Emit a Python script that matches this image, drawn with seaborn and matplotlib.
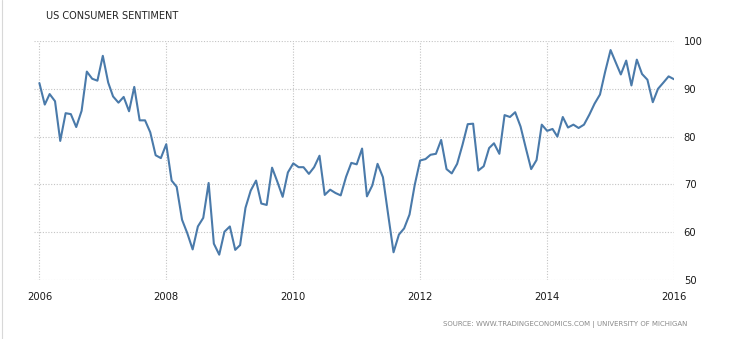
import matplotlib
matplotlib.use("Agg")
import matplotlib.pyplot as plt
import matplotlib.dates as mdates
from matplotlib.lines import Line2D
import numpy as np
import pandas as pd
import seaborn as sns

# University of Michigan consumer sentiment index, monthly, Jan 2006 - Jan 2016
sentiment_2006 = [91.2, 86.7, 88.9, 87.4, 79.1, 84.9, 84.7, 82.0, 85.4, 93.6, 92.1, 91.7]
sentiment_2007 = [96.9, 91.3, 88.4, 87.1, 88.3, 85.3, 90.4, 83.4, 83.4, 80.9, 76.1, 75.5]
sentiment_2008 = [78.4, 70.8, 69.5, 62.6, 59.8, 56.4, 61.2, 63.0, 70.3, 57.6, 55.3, 60.1]
sentiment_2009 = [61.2, 56.3, 57.3, 65.1, 68.7, 70.8, 66.0, 65.7, 73.5, 70.6, 67.4, 72.5]
sentiment_2010 = [74.4, 73.6, 73.6, 72.2, 73.6, 76.0, 67.8, 68.9, 68.2, 67.7, 71.6, 74.5]
sentiment_2011 = [74.2, 77.5, 67.5, 69.8, 74.3, 71.5, 63.7, 55.8, 59.5, 60.8, 63.7, 69.9]
sentiment_2012 = [75.0, 75.3, 76.2, 76.4, 79.3, 73.2, 72.3, 74.3, 78.3, 82.6, 82.7, 72.9]
sentiment_2013 = [73.8, 77.6, 78.6, 76.4, 84.5, 84.1, 85.1, 82.1, 77.5, 73.2, 75.1, 82.5]
sentiment_2014 = [81.2, 81.6, 80.0, 84.1, 81.9, 82.5, 81.8, 82.5, 84.6, 86.9, 88.8, 93.6]
sentiment_2015 = [98.1, 95.4, 93.0, 95.9, 90.7, 96.1, 93.1, 91.9, 87.2, 90.0, 91.3, 92.6]
sentiment_2016 = [92.0]

sentiment = (sentiment_2006 + sentiment_2007 + sentiment_2008 + sentiment_2009 +
             sentiment_2010 + sentiment_2011 + sentiment_2012 + sentiment_2013 +
             sentiment_2014 + sentiment_2015 + sentiment_2016)
months = pd.date_range("2006-01-01", periods=len(sentiment), freq="MS")

title_text = "US CONSUMER SENTIMENT"
source_text = "SOURCE: WWW.TRADINGECONOMICS.COM | UNIVERSITY OF MICHIGAN"
y_ticks = [50, 60, 70, 80, 90, 100]

df = pd.DataFrame({"month": months, "sentiment": sentiment})

sns.set_theme(style="white")
plt.rcParams["font.family"] = ["DejaVu Sans"]

W, H = 750, 339
fig = plt.figure(figsize=(W / 100, H / 100), dpi=100)
ax = fig.add_axes([34 / W, 1 - 280 / H, (674 - 34) / W, (280 - 41) / H])

sns.lineplot(data=df, x="month", y="sentiment", ax=ax,
             color="#4a7aaa", linewidth=1.5, zorder=3)

ax.set_xlim(pd.Timestamp("2005-12-01"), pd.Timestamp("2016-01-01"))
ax.set_ylim(50, 100)
ax.set_yticks(y_ticks)
ax.xaxis.set_major_locator(mdates.YearLocator(2))
ax.xaxis.set_major_formatter(mdates.DateFormatter("%Y"))

grid_kw = dict(color="#c4c4c4", linestyle=(0, (1, 1.5)), linewidth=0.8)
ax.grid(True, axis="both", **grid_kw)
for s in ax.spines.values():
    s.set_visible(False)

ax.yaxis.tick_right()
ax.tick_params(axis="y", length=0, pad=7, labelsize=7.2, labelcolor="#1a1a1a")
ax.tick_params(axis="x", length=3, width=0.8, color="#c4c4c4", direction="out",
               pad=6, labelsize=7.2, labelcolor="#1a1a1a")
for lab in ax.get_yticklabels():
    lab.set_horizontalalignment("left")
ax.set_xlabel("")
ax.set_ylabel("")

fig.text(46 / W, 1 - 16 / H, title_text, ha="left", va="center",
         fontsize=7.0, color="#222222")
fig.text(687 / W, 1 - 324 / H, source_text, ha="right", va="center",
         fontsize=5.0, color="#8a8a8a")

# thin frame line along the left edge
fig.add_artist(Line2D([1.5 / W, 1.5 / W], [0, 1], transform=fig.transFigure,
                      color="#d8d8d8", linewidth=0.8))

fig.savefig("out.png", dpi=100)
